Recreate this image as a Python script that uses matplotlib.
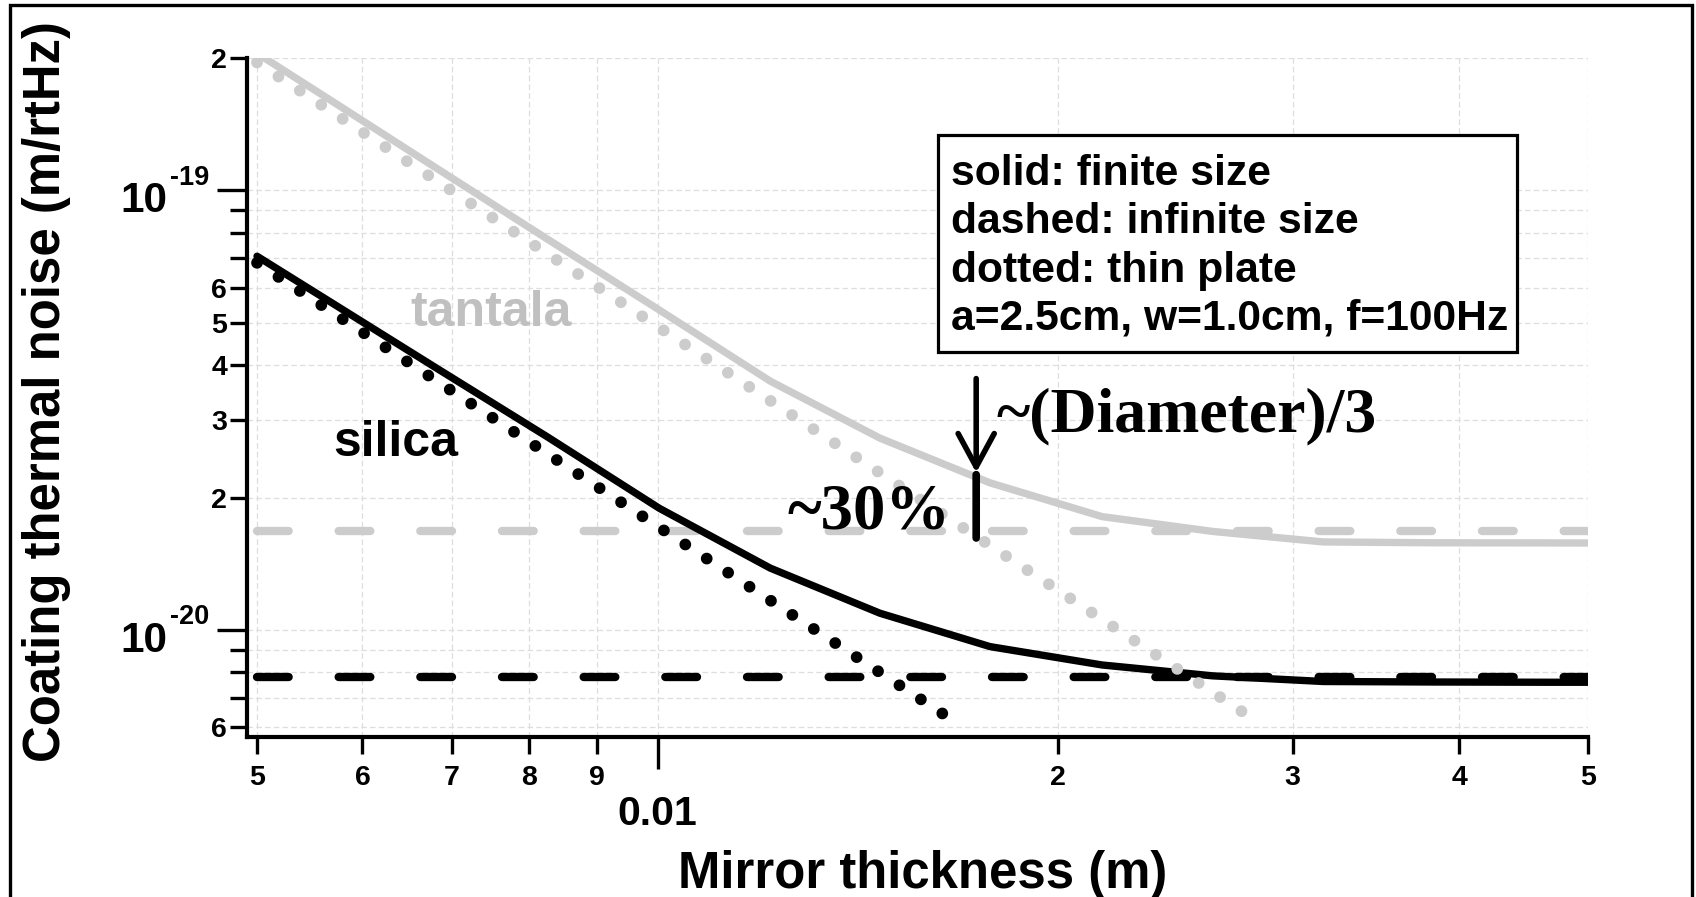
import matplotlib
matplotlib.use('Agg')
import matplotlib.pyplot as plt
import matplotlib.transforms as mtransforms
from matplotlib.patches import Rectangle
from matplotlib.ticker import FixedLocator, FixedFormatter, NullFormatter

# data (m, m/rtHz)
thickness = [0.005, 0.00563, 0.00682, 0.00826, 0.01003, 0.01215, 0.01469,
             0.01777, 0.02157, 0.02611, 0.03163, 0.0383, 0.0464, 0.05]
tantala_finite = [2.05e-19, 1.63e-19, 1.123e-19, 7.75e-20, 5.34e-20, 3.68e-20, 2.73e-20,
                  2.16e-20, 1.81e-20, 1.675e-20, 1.585e-20, 1.578e-20, 1.577e-20, 1.576e-20]
silica_finite = [7.08e-20, 5.66e-20, 3.94e-20, 2.75e-20, 1.89e-20, 1.382e-20, 1.091e-20,
                 9.16e-21, 8.32e-21, 7.86e-21, 7.63e-21, 7.61e-21, 7.6e-21, 7.6e-21]

inf_x = [0.005, 0.05]
tantala_inf = [1.68e-20, 1.68e-20]
silica_inf = [7.83e-21, 7.83e-21]

thin_silica_x = [0.005, 0.01, 0.01647]
thin_silica = [6.84e-20, 1.72e-20, 6.37e-21]
thin_tantala_x = [0.005, 0.01, 0.0278]
thin_tantala = [1.954e-19, 4.9e-20, 6.37e-21]

x_major = [0.01]
x_major_labels = ['0.01']
x_minor = [0.005, 0.006, 0.007, 0.008, 0.009, 0.02, 0.03, 0.04, 0.05]
x_minor_labels = ['5', '6', '7', '8', '9', '2', '3', '4', '5']
y_major = [1e-20, 1e-19]
y_major_exp = ['-20', '-19']
y_minor = [6e-21, 7e-21, 8e-21, 9e-21, 2e-20, 3e-20, 4e-20, 5e-20, 6e-20,
           7e-20, 8e-20, 9e-20, 2e-19]
y_minor_labels = ['6', '', '', '', '2', '3', '4', '5', '6', '', '', '', '2']

legend_lines = ['solid: finite size', 'dashed: infinite size', 'dotted: thin plate',
                'a=2.5cm, w=1.0cm, f=100Hz']

plt.rcParams['font.family'] = 'Liberation Sans'
plt.rcParams['font.weight'] = 'bold'

W, H = 1696, 897
GRAY = '#cccccc'
DOTS = (0, (0.001, 2.17))
DASH = (0, (3.8, 6.0))

fig = plt.figure(figsize=(W / 100, H / 100), dpi=100)
ax = fig.add_axes([247 / W, 1 - 737 / H, (1588 - 247) / W, (737 - 58) / H])
ax.set_xscale('log')
ax.set_yscale('log')
ax.set_xlim(0.004914, 0.05)
ax.set_ylim(5.705e-21, 2e-19)

# tantala infinite size sits under the black curves
ax.plot(inf_x, tantala_inf, color=GRAY, lw=6, linestyle=DASH, dash_capstyle='round', zorder=1.5)

# silica (black)
ax.plot(thickness, silica_finite, color='black', lw=5.3, solid_capstyle='round', zorder=2)
ax.plot(inf_x, silica_inf, color='black', lw=6, linestyle=DASH, dash_capstyle='round', zorder=2)
ax.plot(thin_silica_x, thin_silica, color='black', lw=8.5, linestyle=DOTS,
        dash_capstyle='round', zorder=2)

# tantala (gray)
ax.plot(thickness, tantala_finite, color=GRAY, lw=5.3, solid_capstyle='round', zorder=3)
ax.plot(thin_tantala_x, thin_tantala, color=GRAY, lw=8.5, linestyle=DOTS,
        dash_capstyle='round', zorder=3)

# ticks
ax.xaxis.set_major_locator(FixedLocator(x_major))
ax.xaxis.set_major_formatter(FixedFormatter(x_major_labels))
ax.xaxis.set_minor_locator(FixedLocator(x_minor))
ax.xaxis.set_minor_formatter(FixedFormatter(x_minor_labels))
ax.yaxis.set_major_locator(FixedLocator(y_major))
ax.yaxis.set_major_formatter(NullFormatter())
ax.yaxis.set_minor_locator(FixedLocator(y_minor))
ax.yaxis.set_minor_formatter(FixedFormatter(y_minor_labels))

ax.tick_params(axis='x', which='major', direction='out', length=23, width=2.4, pad=19, labelsize=29.5)
ax.tick_params(axis='x', which='minor', direction='out', length=12, width=2.4, pad=8, labelsize=20.5)
ax.tick_params(axis='y', which='major', direction='out', length=21.6, width=2.4)
ax.tick_params(axis='y', which='minor', direction='out', length=12, width=2.4, pad=2.4, labelsize=20.5)

# decade labels written as "10" + raised exponent
ytrans = ax.get_yaxis_transform()
for val, exp in zip(y_major, y_major_exp):
    base_t = mtransforms.offset_copy(ytrans, fig=fig, x=-80, y=-22, units='dots')
    sup_t = mtransforms.offset_copy(ytrans, fig=fig, x=-38, y=5.7, units='dots')
    ax.text(0, val, '10', transform=base_t, fontsize=30.5, ha='right', va='baseline',
            clip_on=False)
    ax.text(0, val, exp, transform=sup_t, fontsize=19.5, ha='right', va='baseline',
            clip_on=False)

for side in ['top', 'right']:
    ax.spines[side].set_visible(False)
for side in ['left', 'bottom']:
    ax.spines[side].set_linewidth(3)

ax.grid(True, which='both', color='#dedede', lw=0.9, linestyle=(0, (4.5, 2.5)))
ax.set_axisbelow(True)

# labels on the curves
ax.text(0.0074924, 4.909e-20, 'tantala', color='#c0c0c0', fontsize=36, ha='center', va='baseline')
ax.text(0.0063558, 2.481e-20, 'silica', color='black', fontsize=36, ha='center', va='baseline')

# arrow + bar marking the transition
ax.annotate('', xy=(0.01735, 2.278e-20), xytext=(0.01735, 3.73e-20),
            arrowprops=dict(arrowstyle='->,head_length=1.2,head_width=0.65', lw=4,
                            color='black', shrinkA=0, shrinkB=0, mutation_scale=20))
ax.annotate('', xy=(0.01735, 1.618e-20), xytext=(0.01735, 2.255e-20),
            arrowprops=dict(arrowstyle='-', lw=5.5, color='black', shrinkA=0, shrinkB=0))
ax.text(0.01659, 1.705e-20, '~30%', family='Liberation Serif', weight='bold', fontsize=46.5,
        ha='right', va='baseline')
ax.text(0.017985, 2.829e-20, '~(Diameter)/3', family='Liberation Serif', weight='bold',
        fontsize=46, ha='left', va='baseline')

# legend box
fig.add_artist(Rectangle((938 / W, 1 - 352 / H), (1517 - 938) / W, (352 - 135) / H,
                         transform=fig.transFigure, facecolor='white', edgecolor='black',
                         lw=2.3, zorder=5))
for i, line in enumerate(legend_lines):
    fig.text(951 / W, 1 - (185 + 48.3 * i) / H, line, fontsize=30.7, va='baseline', zorder=6)

# axis titles
fig.text(46.5 / W, 1 - 392 / H, 'Coating thermal noise (m/rtHz)', rotation=90,
         fontsize=36.6, ha='center', va='center')
fig.text(922.6 / W, 1 - 888.3 / H, 'Mirror thickness (m)', fontsize=36.6,
         ha='center', va='baseline')

# outer frame
fig.add_artist(Rectangle((10 / W, -0.02), (1692 - 10) / W, 1 - 5 / H + 0.02,
                         transform=fig.transFigure, fill=False, edgecolor='black',
                         lw=2.4, clip_on=False))

fig.savefig('out.png', dpi=100)
